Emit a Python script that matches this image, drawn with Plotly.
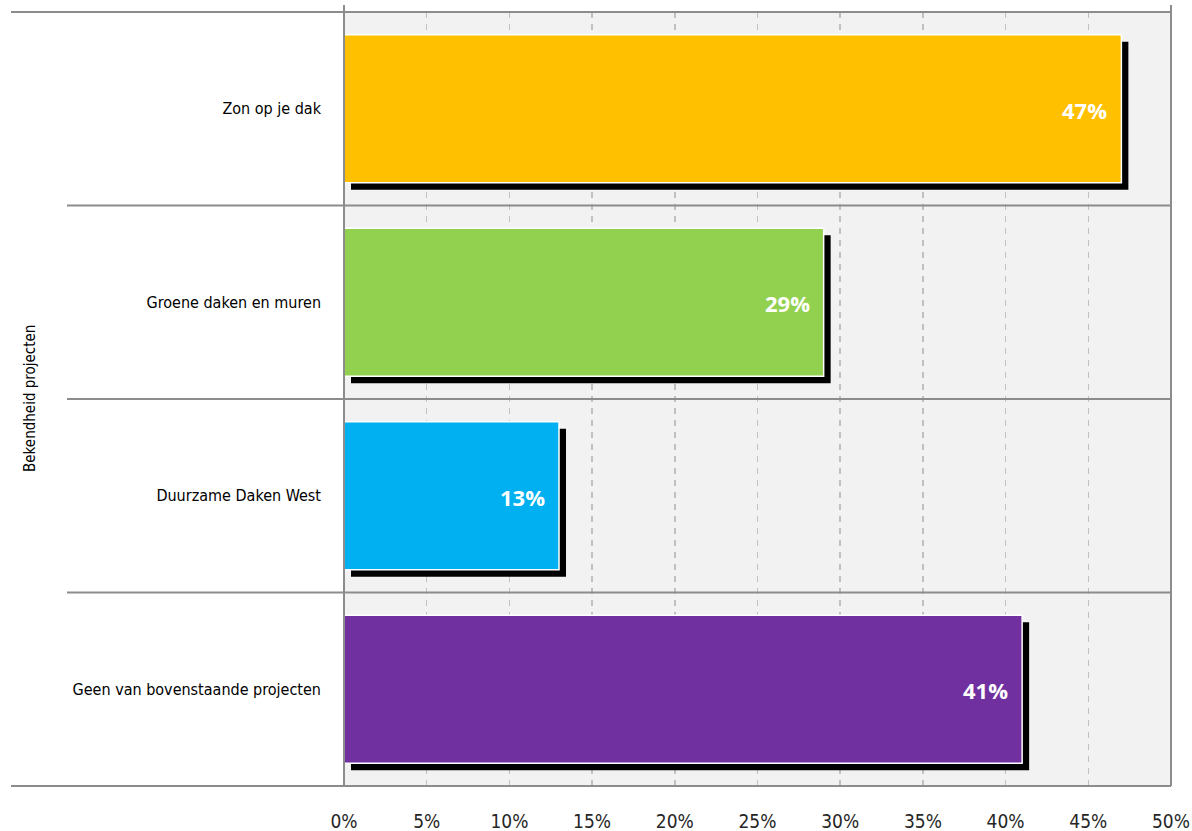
import plotly.graph_objects as go

categories = ["Zon op je dak", "Groene daken en muren", "Duurzame Daken West", "Geen van bovenstaande projecten"]
values = [47, 29, 13, 41]
colors = ["#FFC000", "#92D050", "#00B0F0", "#7030A0"]
tick_vals = [0, 5, 10, 15, 20, 25, 30, 35, 40, 45, 50]
tick_text = [f"{v}%" for v in tick_vals]
axis_title = "Bekendheid projecten"

W, H = 1192, 831
ml, mr, mt, mb = 344, 21, 12, 45
pw = W - ml - mr
ph = H - mt - mb
n = len(categories)
ypos = [n - 1 - i for i in range(n)]  # top to bottom

xmax = 50
dx = 7 * xmax / pw           # shadow offset in data units (x)
dy = 7 * n / ph              # shadow offset in data units (y)
bw = 0.765

FONT = "Gill Sans MT, Gill Sans, DejaVu Sans Condensed, Liberation Sans Narrow, sans-serif"
GRAY = "#8c8c8c"

fig = go.Figure()
# shadows
fig.add_trace(go.Bar(
    x=values, y=[p - dy for p in ypos], base=[dx] * n, orientation="h",
    width=bw, marker=dict(color="#000000", line=dict(width=0)),
    hoverinfo="skip", showlegend=False,
))
# bars
fig.add_trace(go.Bar(
    x=values, y=ypos, orientation="h", width=bw,
    marker=dict(color=colors, line=dict(color="#ffffff", width=1.5)),
    hoverinfo="skip", showlegend=False,
))

annotations = []
for v, p in zip(values, ypos):
    annotations.append(dict(
        x=v, y=p, xref="x", yref="y", text=f"<b>{v}%</b>", showarrow=False,
        xanchor="right", xshift=-12, yshift=-1,
        font=dict(family="Open Sans, sans-serif", size=22, color="#ffffff"),
    ))
annotations.append(dict(
    x=(30 - ml) / pw, y=0.5, xref="paper", yref="paper", text=axis_title,
    showarrow=False, textangle=-90, xanchor="center", yanchor="middle",
    font=dict(family=FONT, size=15, color="#000000"),
))

shapes = []
# top and bottom frame lines
for yy in [0, 1]:
    shapes.append(dict(type="line", xref="paper", yref="paper",
                       x0=(11 - ml) / pw, x1=1, y0=yy, y1=yy,
                       line=dict(color=GRAY, width=2), layer="above"))
# category dividers
for k in range(1, n):
    shapes.append(dict(type="line", xref="paper", yref="y",
                       x0=(67 - ml) / pw, x1=1, y0=k - 0.5, y1=k - 0.5,
                       line=dict(color=GRAY, width=2), layer="above"))
# left axis line (extends a bit above the top)
shapes.append(dict(type="line", xref="paper", yref="paper", x0=0, x1=0,
                   y0=0, y1=1 + 7 / ph, line=dict(color=GRAY, width=2), layer="above"))
# right border
shapes.append(dict(type="line", xref="paper", yref="paper", x0=1, x1=1,
                   y0=0, y1=1 + 7 / ph, line=dict(color=GRAY, width=2), layer="above"))

fig.update_layout(
    width=W, height=H,
    margin=dict(l=ml, r=mr, t=mt, b=mb, pad=0, autoexpand=False),
    paper_bgcolor="#ffffff", plot_bgcolor="#f2f2f2",
    barmode="overlay", showlegend=False,
    annotations=annotations, shapes=shapes,
    xaxis=dict(
        range=[0, xmax], tickvals=tick_vals, ticktext=tick_text,
        showgrid=True, gridcolor="#c0c0c0", gridwidth=1.5, griddash="6px,6px",
        zeroline=False, showline=False, ticks="",
        ticklabelstandoff=22, automargin=False,
        tickfont=dict(family=FONT, size=19, color="#262626"),
        fixedrange=True,
    ),
    yaxis=dict(
        range=[-0.5, n - 0.5], tickvals=ypos, ticktext=categories,
        showgrid=False, zeroline=False, showline=False, ticks="",
        ticklabelstandoff=22, automargin=False,
        tickfont=dict(family=FONT, size=16, color="#000000"),
        fixedrange=True,
    ),
)

fig.write_html(
    "out.html",
    config={"displayModeBar": False, "staticPlot": True},
    post_script="document.body.style.margin='0';document.body.style.overflow='hidden';",
)
